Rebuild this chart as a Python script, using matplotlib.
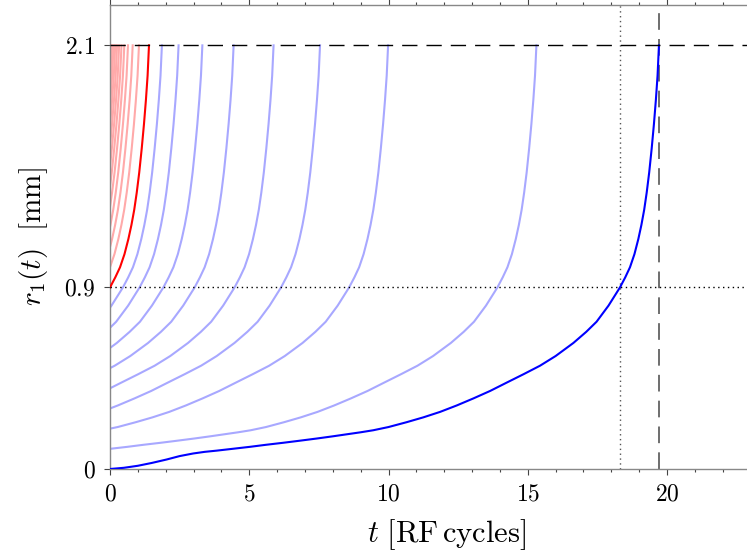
# radius of ion orbits vs time, shifted copies of one trajectory
import numpy as np
import matplotlib.pyplot as plt

plt.rcParams['mathtext.fontset'] = 'cm'
plt.rcParams['font.family'] = 'serif'
plt.rcParams['font.serif'] = ['cmr10', 'DejaVu Serif']
plt.rcParams['axes.unicode_minus'] = False

# main trajectory (dark blue)
t_main = [0, 0.5, 1.0, 1.5, 2.03, 2.5, 2.99, 3.4, 3.83, 4.4, 5.03, 5.6, 6.22, 6.8,
          7.42, 8.0, 8.5, 9.0, 9.45, 10.0, 10.65, 11.25, 11.85, 12.45, 13.05,
          13.65, 14.24, 14.85, 15.44, 16.0, 16.64, 17.1, 17.47, 17.9, 18.31,
          18.5, 18.67, 18.83, 18.97, 19.08, 19.18, 19.27, 19.36, 19.45, 19.53,
          19.6, 19.66, 19.71]
r_main = [0, 0.006, 0.016, 0.03, 0.047, 0.064, 0.077, 0.085, 0.091, 0.1, 0.11, 0.12,
          0.13, 0.14, 0.151, 0.162, 0.172, 0.182, 0.192, 0.208, 0.232, 0.256,
          0.283, 0.315, 0.35, 0.387, 0.428, 0.47, 0.512, 0.56, 0.625, 0.68,
          0.73, 0.81, 0.9, 0.95, 1.0, 1.065, 1.14, 1.21, 1.285, 1.37, 1.47,
          1.59, 1.71, 1.83, 1.95, 2.1]

# start radii of the other orbits
blue_starts = [0.1, 0.2, 0.3, 0.4, 0.5, 0.6, 0.7, 0.8]
red_start = 0.9
pink_starts = [1.0, 1.1, 1.2, 1.3, 1.4, 1.5, 1.6, 1.7, 1.8, 1.9, 2.0]

r_out = 2.1      # dashed line
r_mark = 0.9     # dotted line
t_mark = 18.31   # time main orbit reaches 0.9
t_out = 19.71    # time main orbit reaches 2.1

t_arr = np.array(t_main)
r_arr = np.array(r_main)


def shifted(r0):
    # same trajectory started at r0 at t=0
    t0 = np.interp(r0, r_arr, t_arr)
    keep = r_arr > r0
    t = np.concatenate([[0], t_arr[keep] - t0])
    r = np.concatenate([[r0], r_arr[keep]])
    return t, r


fig = plt.figure(figsize=(7.47, 5.6), dpi=100)
ax = fig.add_axes([110/747, 91/560, (784-110)/747, 464/560])

for r0 in pink_starts:
    t, r = shifted(r0)
    ax.plot(t, r, color='#ffaaaa', lw=1.5, zorder=2)
for r0 in blue_starts:
    t, r = shifted(r0)
    ax.plot(t, r, color='#a8a8ff', lw=1.5, zorder=2)
t, r = shifted(red_start)
ax.plot(t, r, color='red', lw=1.5, zorder=3)
ax.plot(t_main, r_main, color='blue', lw=1.5, zorder=4)

# guide lines
ax.axhline(r_out, color='black', lw=1, ls=(0, (11, 6.5)), zorder=5)
ax.axhline(r_mark, color='black', lw=1, ls=(0, (1, 2.5)), zorder=5)
ax.axvline(t_mark, color='#555555', lw=1, ls=(0, (1, 2.5)), zorder=1)
ax.axvline(t_out, color='#555555', lw=1.2, ls=(0, (10, 5.5)), zorder=1)

ax.set_xlim(0, 24.2)
ax.set_ylim(0, 2.3)

ax.set_xticks([0, 5, 10, 15, 20], labels=['$0$', '$5$', '$10$', '$15$', '$20$'])
ax.set_xticks(np.arange(0, 25, 1), minor=True)
ax.set_yticks([0, 0.9, 2.1], labels=['$0$', '$0.9$', '$2.1$'])

ax.tick_params(which='both', direction='out', top=True, right=False,
               color='#444444', labelsize=17)
ax.tick_params(which='major', length=4.5, width=0.8, pad=6)
ax.tick_params(which='minor', length=2, width=0.8)

for s in ax.spines.values():
    s.set_color('#888888')
    s.set_linewidth(1.0)

ax.set_xlabel(r'$t\ [\mathrm{RF\,cycles}]$', fontsize=22, labelpad=8)
ax.set_ylabel(r'$r_1(t)\ \ [\mathrm{mm}]$', fontsize=21, labelpad=10)

plt.savefig('out.png', dpi=100)
